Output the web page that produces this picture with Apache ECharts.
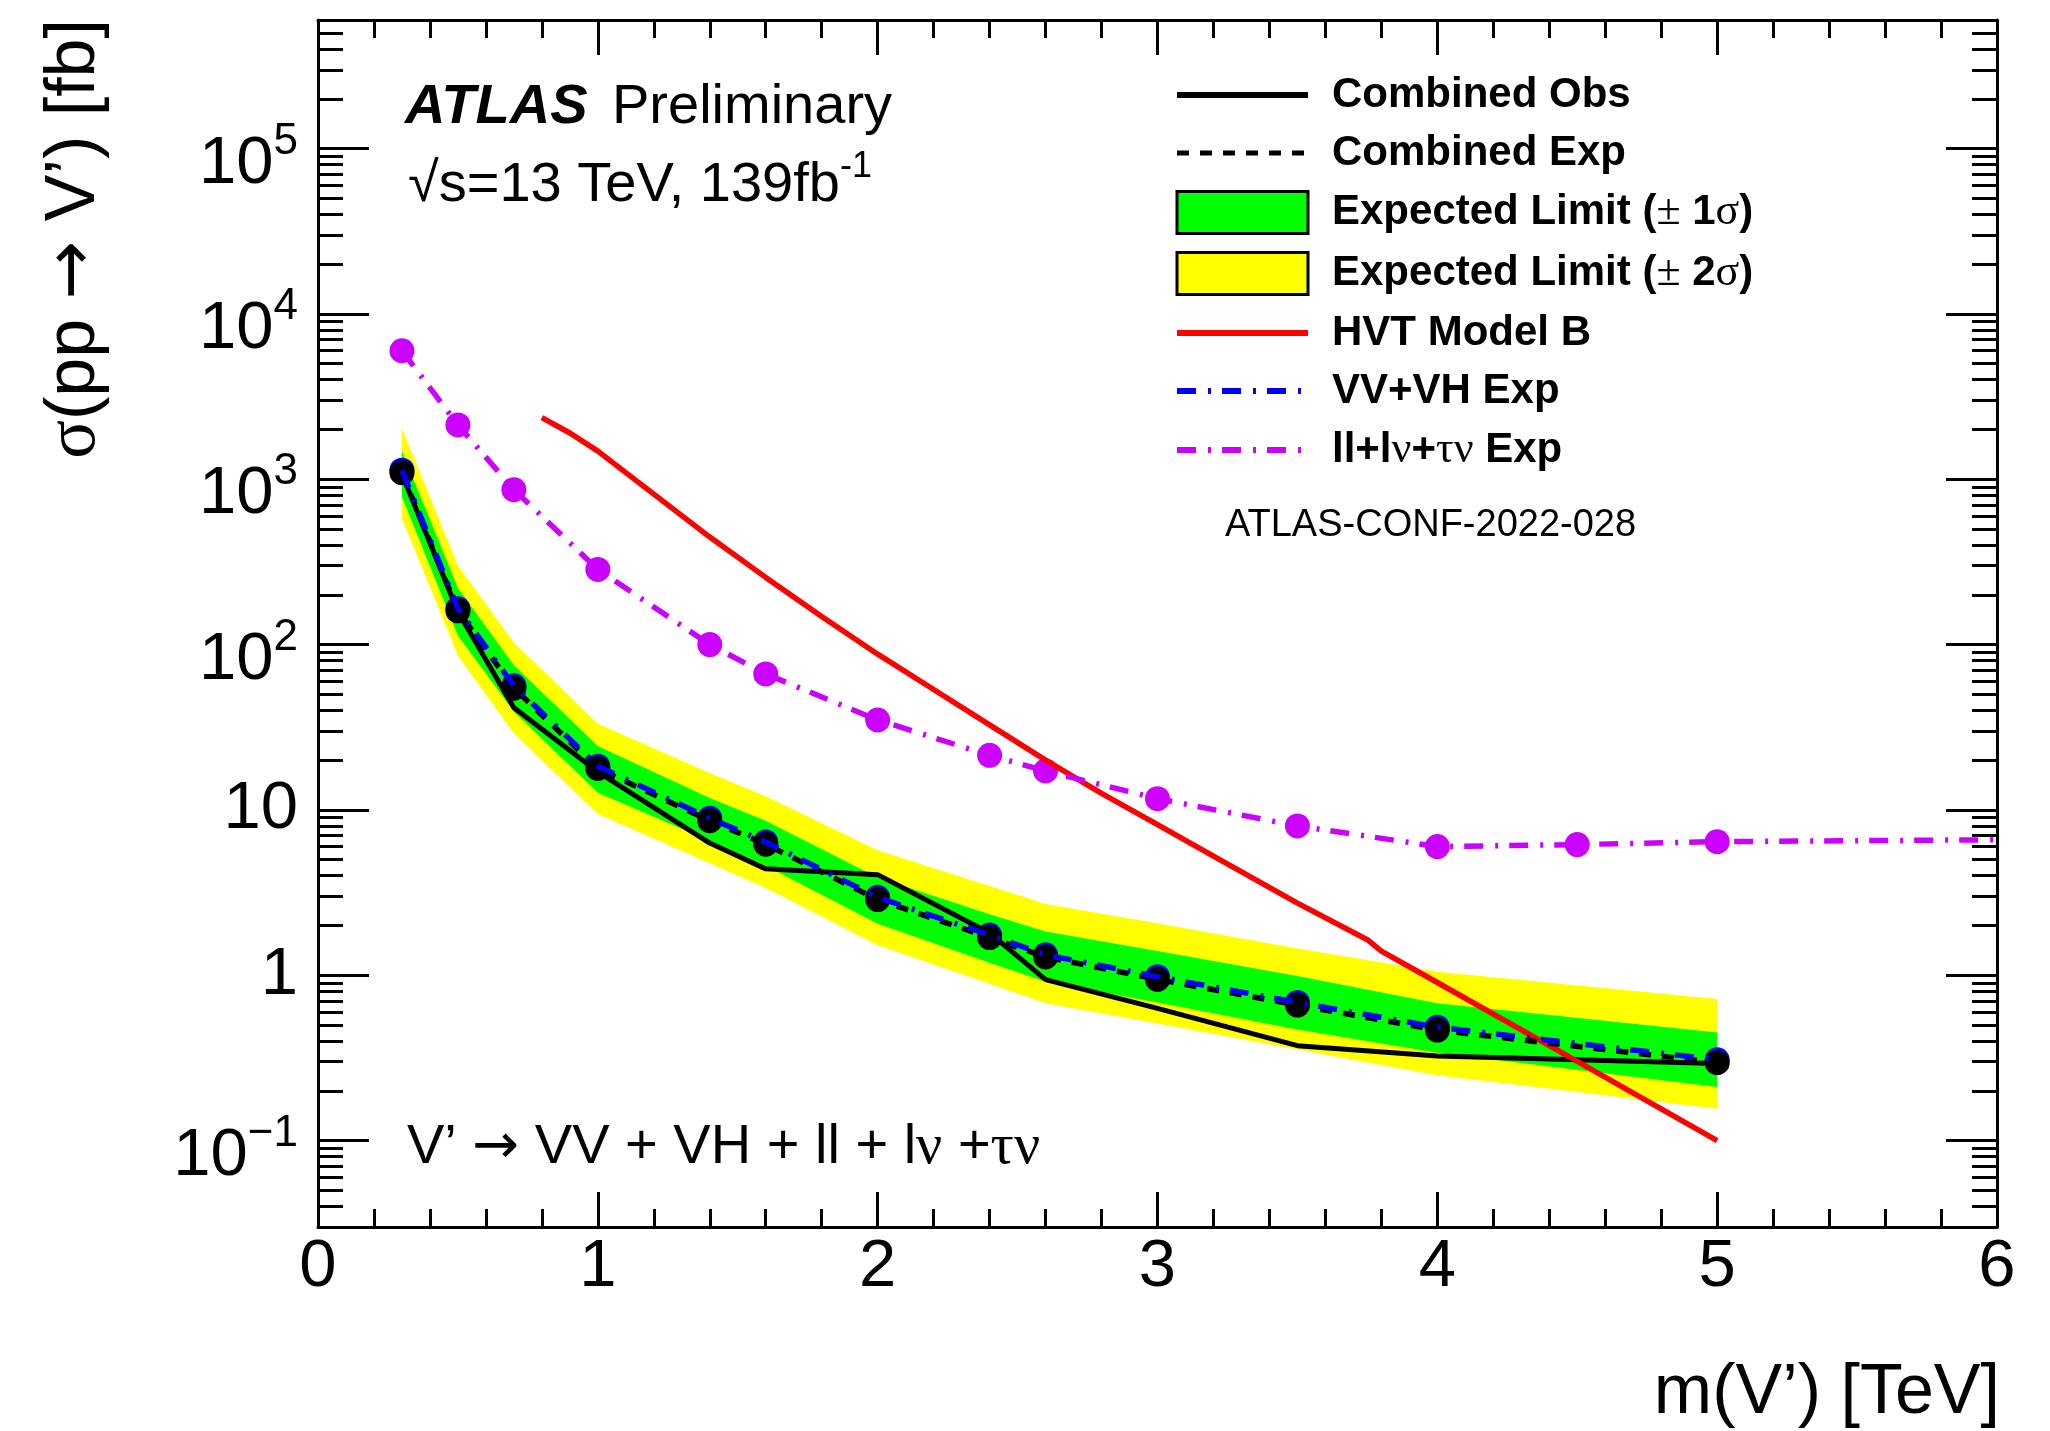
<!DOCTYPE html>
<html>
<head>
<meta charset="utf-8">
<title>V' combined limits</title>
<script src="https://cdn.jsdelivr.net/npm/echarts@6/dist/echarts.min.js"></script>
<style>
  html, body { margin: 0; padding: 0; background: #fff; }
  #chart { width: 2050px; height: 1431px; }
</style>
</head>
<body>
<div id="chart"></div>
<script>
// Resonance mass points of the combined VV+VH+lepton limit scan (TeV)
const massPoints     = [0.3, 0.5, 0.7, 1.0, 1.4, 1.6, 2.0, 2.4, 2.6, 3.0, 3.5, 4.0, 5.0];
// 95% CL upper limits on sigma(pp -> V') in fb
const observedLimit  = [1075, 158, 41.5, 17.0, 6.3, 4.4, 4.06, 1.80, 0.94, 0.63, 0.375, 0.325, 0.292];
const expectedLimit  = [1097, 160, 54.5, 17.8, 8.6, 6.2, 2.87, 1.69, 1.29, 0.944, 0.66, 0.466, 0.296];
const expPlus1Sigma  = [1483, 220, 75, 24.4, 11.8, 8.6, 3.9, 2.34, 1.84, 1.40, 0.99, 0.676, 0.451];
const expMinus1Sigma = [780, 113, 39.3, 12.7, 6.5, 4.6, 2.05, 1.19, 0.914, 0.684, 0.47, 0.340, 0.211];
const expPlus2Sigma  = [2030, 300, 103, 33.2, 16.7, 12.1, 5.70, 3.47, 2.70, 2.06, 1.45, 1.05, 0.718];
const expMinus2Sigma = [577, 85.5, 29, 9.45, 4.75, 3.37, 1.52, 0.887, 0.676, 0.51, 0.355, 0.248, 0.156];
const vvvhExpected   = [1135, 165, 56.3, 18.4, 8.9, 6.4, 2.96, 1.75, 1.33, 0.98, 0.685, 0.485, 0.308];

// Leptonic (ll + lv + tau v) expected limit; the last point only extends the line
const leptonMass     = [0.3, 0.5, 0.7, 1.0, 1.4, 1.6, 2.0, 2.4, 2.6, 3.0, 3.5, 4.0, 4.5, 5.0, 6.0];
const leptonExpected = [5990, 2133, 865, 285, 100, 66.5, 35.0, 21.4, 17.2, 11.7, 8.0, 6.0, 6.17, 6.43, 6.6];
const leptonMarkerMaxMass = 5.0;

// HVT Model B theory cross-section
const hvtMass = [0.8, 0.9, 1.0, 1.2, 1.4, 1.6, 1.8, 2.0, 2.2, 2.4, 2.6, 2.8, 3.0, 3.2, 3.5, 3.75, 3.8, 4.0, 4.5, 5.0];
const hvtXsec = [2360, 1905, 1480, 813, 447, 255, 148, 87.5, 53.5, 32.7, 20.0, 12.6, 8.15, 5.25, 2.73, 1.64, 1.40, 0.904, 0.301, 0.1];

// Axis ranges
const xRange = [0, 6];
const yRange = [0.03, 6e5];

const SANS = '"Liberation Sans", Arial, Helvetica, sans-serif';
const SERIF = '"Liberation Serif", "DejaVu Serif", "Times New Roman", serif';
const ARROW_FONT = '"DejaVu Sans", "Liberation Sans", sans-serif';
const DASH_DOT = [19, 12, 3, 11];
const DOTTED = [12, 11];

function xy(xs, ys) { return xs.map((x, i) => [x, ys[i]]); }

// Filled band between a lower and an upper limit curve, drawn as one polygon
function bandSeries(name, lower, upper, color) {
  return {
    name: name,
    type: 'custom',
    coordinateSystem: 'cartesian2d',
    silent: true,
    clip: true,
    itemStyle: { color: color },
    encode: { x: 0, y: [1, 2] },
    data: massPoints.map((m, i) => [m, lower[i], upper[i]]),
    renderItem: function (params, api) {
      if (params.dataIndex !== 0) return null;
      const top = massPoints.map((m, i) => api.coord([m, upper[i]]));
      const bottom = massPoints.map((m, i) => api.coord([m, lower[i]])).reverse();
      return { type: 'polygon', shape: { points: top.concat(bottom) }, style: { fill: color } };
    }
  };
}

function powerLabel(v) {
  const e = Math.log10(v);
  const r = Math.round(e);
  if (Math.abs(e - r) > 1e-6) return '';
  if (r === 0) return '{p|1}';
  if (r === 1) return '{p|10}';
  return '{b|10}{s|' + (r < 0 ? '\u2212' + (-r) : r) + '}';
}

const axisLineStyle = { color: '#000', width: 3 };

function xAxisDef(position, withLabels) {
  return {
    type: 'value', position: position, min: xRange[0], max: xRange[1], interval: 1,
    axisLine: { show: true, onZero: false, lineStyle: axisLineStyle },
    axisTick: { show: true, inside: true, length: 35, lineStyle: axisLineStyle },
    minorTick: { show: true, splitNumber: 5, length: 18, lineStyle: axisLineStyle },
    splitLine: { show: false }, minorSplitLine: { show: false },
    axisLabel: withLabels ? {
      show: true, margin: 7, color: '#000', fontFamily: SANS, fontSize: 67
    } : { show: false }
  };
}

function yAxisDef(position, withLabels) {
  return {
    type: 'log', logBase: 10, position: position, min: yRange[0], max: yRange[1], splitNumber: 7,
    axisLine: { show: true, onZero: false, lineStyle: axisLineStyle },
    axisTick: { show: true, inside: true, length: 51, lineStyle: axisLineStyle },
    minorTick: { show: true, splitNumber: 9, length: 25, lineStyle: axisLineStyle },
    splitLine: { show: false }, minorSplitLine: { show: false },
    axisLabel: withLabels ? {
      show: true, margin: 20, color: '#000', fontFamily: SANS, fontSize: 67,
      showMinLabel: true, showMaxLabel: true,
      formatter: powerLabel,
      rich: {
        b: { fontFamily: SANS, fontSize: 67, lineHeight: 72, padding: [18, 0, 0, 0], verticalAlign: 'top', color: '#000' },
        s: { fontFamily: SANS, fontSize: 44, lineHeight: 44, padding: [7, 0, 0, 0], verticalAlign: 'top', color: '#000' },
        p: { fontFamily: SANS, fontSize: 67, lineHeight: 70, color: '#000' }
      }
    } : { show: false }
  };
}

const markerStyle = (color) => ({ color: color, opacity: 1, borderWidth: 0 });

const chart = echarts.init(document.getElementById('chart'), null, { renderer: 'canvas' });

chart.setOption({
  animation: false,
  backgroundColor: '#fff',
  textStyle: { fontFamily: SANS },
  grid: { left: 318, right: 53, top: 20, bottom: 204, containLabel: false, outerBoundsMode: 'none' },
  xAxis: [xAxisDef('bottom', true), xAxisDef('top', false)],
  yAxis: [yAxisDef('left', true), yAxisDef('right', false)],
  legend: {
    orient: 'vertical', left: 1174, top: 74, padding: 0,
    itemWidth: 131, itemHeight: 42, itemGap: 16,
    selectedMode: false,
    itemStyle: { opacity: 0 },
    textStyle: {
      fontFamily: SANS, fontWeight: 'bold', fontSize: 42, lineHeight: 42, color: '#000',
      padding: [0, 0, 0, 19],
      rich: { g: { fontFamily: SERIF, fontWeight: 'normal', fontSize: 44, lineHeight: 42, color: '#000' } }
    },
    formatter: function (name) { return name.replace(/([±στν])/g, '{g|$1}'); },
    data: [
      { name: 'Combined Obs', lineStyle: { width: 6, type: 'solid', color: '#000' } },
      { name: 'Combined Exp', lineStyle: { width: 5, type: DOTTED, color: '#000' } },
      { name: 'Expected Limit (± 1σ)', icon: 'rect', itemStyle: { opacity: 1, color: '#00ff00', borderColor: '#000', borderWidth: 3 } },
      { name: 'Expected Limit (± 2σ)', icon: 'rect', itemStyle: { opacity: 1, color: '#ffff00', borderColor: '#000', borderWidth: 3 } },
      { name: 'HVT Model B', lineStyle: { width: 6, type: 'solid', color: '#ff0000' } },
      { name: 'VV+VH Exp', lineStyle: { width: 6, type: DASH_DOT, color: '#0000ff' } },
      { name: 'll+lν+τν Exp', lineStyle: { width: 6, type: DASH_DOT, color: '#cc00ff' } }
    ]
  },
  series: [
    bandSeries('Expected Limit (± 2σ)', expMinus2Sigma, expPlus2Sigma, '#ffff00'),
    bandSeries('Expected Limit (± 1σ)', expMinus1Sigma, expPlus1Sigma, '#00ff00'),
    {
      name: 'Combined Obs', type: 'line', data: xy(massPoints, observedLimit),
      symbol: 'none', showSymbol: false, silent: true,
      lineStyle: { color: '#000', width: 5 }, itemStyle: { color: '#000' }
    },
    {
      name: 'HVT Model B', type: 'line', data: xy(hvtMass, hvtXsec),
      symbol: 'none', showSymbol: false, silent: true,
      lineStyle: { color: '#ff0000', width: 5.5 }, itemStyle: { color: '#ff0000' }
    },
    {
      name: 'Combined Exp', type: 'line', data: xy(massPoints, expectedLimit),
      symbol: 'none', showSymbol: false, silent: true,
      lineStyle: { color: '#000', width: 5.5, type: DOTTED }, itemStyle: { color: '#000' }
    },
    {
      name: 'VV+VH Exp', type: 'line', data: xy(massPoints, vvvhExpected),
      symbol: 'none', showSymbol: false, silent: true,
      lineStyle: { color: '#0000ff', width: 5.5, type: DASH_DOT }, itemStyle: { color: '#0000ff' }
    },
    {
      name: 'VV+VH markers', type: 'scatter', data: xy(massPoints, vvvhExpected),
      symbol: 'circle', symbolSize: 25, silent: true, itemStyle: markerStyle('#0000ff')
    },
    {
      name: 'Combined Exp markers', type: 'scatter', data: xy(massPoints, expectedLimit),
      symbol: 'circle', symbolSize: 25, silent: true, itemStyle: markerStyle('#000')
    },
    {
      name: 'll+lν+τν Exp', type: 'line', data: xy(leptonMass, leptonExpected),
      symbol: 'none', showSymbol: false, silent: true,
      lineStyle: { color: '#cc00ff', width: 5.5, type: DASH_DOT }, itemStyle: { color: '#cc00ff' }
    },
    {
      name: 'll+lν+τν markers', type: 'scatter',
      data: xy(leptonMass, leptonExpected).filter(p => p[0] <= leptonMarkerMaxMass),
      symbol: 'circle', symbolSize: 25, silent: true, itemStyle: markerStyle('#cc00ff')
    }
  ],
  graphic: [
    { type: 'text', x: 405, y: 108, silent: true,
      style: { text: 'ATLAS', fontFamily: SANS, fontSize: 56, fontWeight: 'bold', fontStyle: 'italic', fill: '#000', align: 'left', verticalAlign: 'middle' } },
    { type: 'text', x: 612, y: 108, silent: true,
      style: { text: 'Preliminary', fontFamily: SANS, fontSize: 56, fill: '#000', align: 'left', verticalAlign: 'middle' } },
    { type: 'text', x: 408, y: 149, silent: true,
      style: {
        text: '{n|\u221As=13 TeV, 139fb}{s|-1}', fill: '#000', align: 'left', verticalAlign: 'top',
        rich: {
          n: { fontFamily: SANS, fontSize: 56, lineHeight: 56, padding: [9, 0, 0, 0], verticalAlign: 'top', fill: '#000' },
          s: { fontFamily: SANS, fontSize: 36, lineHeight: 36, verticalAlign: 'top', fill: '#000' }
        }
      } },
    { type: 'text', x: 1225, y: 526, silent: true,
      style: { text: 'ATLAS-CONF-2022-028', fontFamily: SANS, fontSize: 38, fill: '#000', align: 'left', verticalAlign: 'middle' } },
    { type: 'text', x: 407, y: 1148, silent: true,
      style: {
        text: 'V\u2019 {a|\u2192} VV + VH + ll + l{g|\u03bd} +{g|\u03c4\u03bd}',
        fontFamily: SANS, fontSize: 56, fill: '#000', align: 'left', verticalAlign: 'middle',
        rich: {
          g: { fontFamily: SERIF, fontSize: 58, fill: '#000' },
          a: { fontFamily: ARROW_FONT, fontSize: 56, fill: '#000' }
        }
      } },
    { type: 'text', x: 2000, y: 1394, silent: true,
      style: { text: 'm(V\u2019) [TeV]', fontFamily: SANS, fontSize: 70, fill: '#000', align: 'right', verticalAlign: 'middle' } },
    { type: 'text', x: 75, y: 19, rotation: Math.PI / 2, silent: true,
      style: {
        text: '{g|\u03c3}(pp {a|\u2192} V\u2019) [fb]',
        fontFamily: SANS, fontSize: 70, fill: '#000', align: 'right', verticalAlign: 'middle',
        rich: {
          g: { fontFamily: SERIF, fontSize: 72, fill: '#000' },
          a: { fontFamily: ARROW_FONT, fontSize: 70, fill: '#000' }
        }
      } }
  ]
});
</script>
</body>
</html>
